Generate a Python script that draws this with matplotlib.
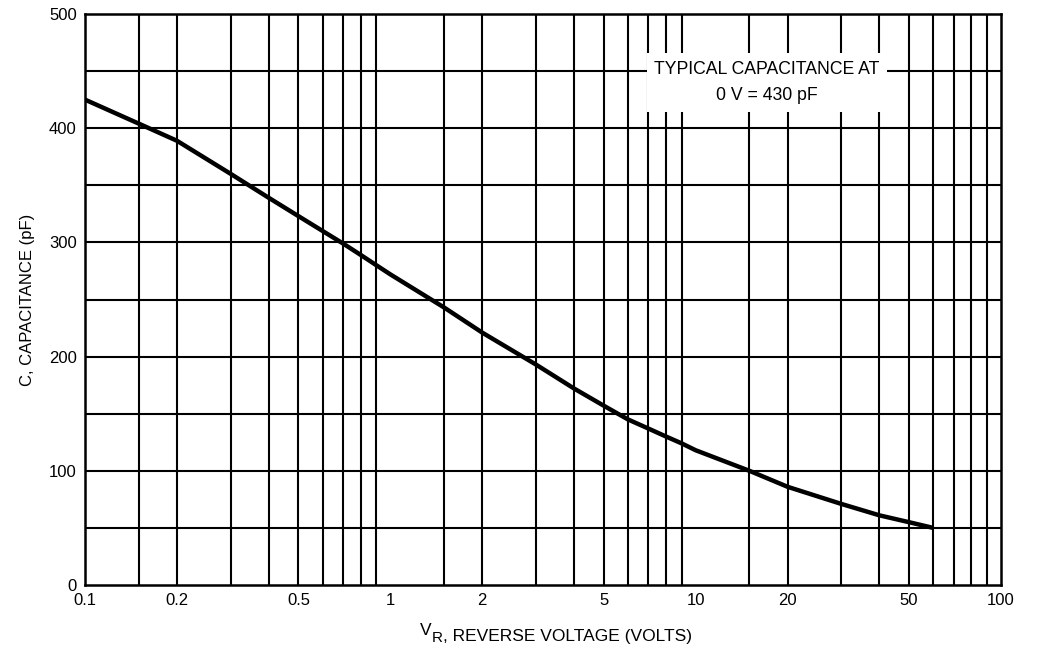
import numpy as np
import matplotlib.pyplot as plt
from matplotlib.ticker import FixedLocator, NullFormatter

plt.rcParams['font.family'] = ['Liberation Sans', 'DejaVu Sans']

# Reverse voltage (V) and capacitance (pF)
vr = [0.1, 0.15, 0.2, 0.3, 0.4, 0.5, 0.6, 0.7, 0.8, 0.9, 1.0, 1.5, 2.0,
      3.0, 4.0, 5.0, 6.0, 7.0, 8.0, 9.0, 10, 15, 20, 30, 40, 50, 60]
cap = [425, 404, 389, 360, 339, 323, 310, 299, 289, 280, 272, 243, 221,
       193, 172, 157, 145, 137, 130, 124, 118, 100, 86, 71, 61, 55, 50]

x_ticks = [0.1, 0.2, 0.5, 1, 2, 5, 10, 20, 50, 100]
x_labels = ['0.1', '0.2', '0.5', '1', '2', '5', '10', '20', '50', '100']
y_ticks = [0, 100, 200, 300, 400, 500]
minor_steps = [1.5, 2, 3, 4, 5, 6, 7, 8, 9]
decades = [0.1, 1, 10]

fig = plt.figure(figsize=(10.55, 6.48), dpi=100)
ax = fig.add_axes([0.0806, 0.0972, 0.8682, 0.8812])

ax.set_xscale('log')
ax.set_xlim(0.1, 100)
ax.set_ylim(0, 500)

# grid lines
vgrid = [d * s for d in decades for s in minor_steps]
for xv in vgrid:
    ax.axvline(xv, color='black', lw=1.5, zorder=1)
for yv in range(50, 500, 50):
    ax.axhline(yv, color='black', lw=1.5, zorder=1)

ax.plot(vr, cap, color='black', lw=3.2, zorder=3, solid_capstyle='butt')

ax.xaxis.set_major_locator(FixedLocator(x_ticks))
ax.xaxis.set_minor_locator(FixedLocator([]))
ax.xaxis.set_minor_formatter(NullFormatter())
ax.set_xticks(x_ticks)
ax.set_xticklabels(x_labels)
ax.set_yticks(y_ticks)
ax.tick_params(axis='both', length=0, labelsize=12, pad=6)

for s in ax.spines.values():
    s.set_linewidth(1.8)
    s.set_zorder(4)

ax.set_ylabel('C, CAPACITANCE (pF)', fontsize=12, labelpad=10)

# x label with a large subscript R
t_v = ax.text(0.366, -0.088, 'V', transform=ax.transAxes, ha='left',
              va='baseline', fontsize=12.5)
t_r = ax.annotate('R', xy=(1, 0), xycoords=t_v, xytext=(0, -2.5),
                  textcoords='offset points', ha='left', va='baseline',
                  fontsize=11)
ax.annotate(', REVERSE VOLTAGE (VOLTS)', xy=(1, 0), xycoords=t_r,
            xytext=(0, 2.5), textcoords='offset points', ha='left',
            va='baseline', fontsize=12.5)

ax.text(17.1, 440, 'TYPICAL CAPACITANCE AT\n0 V = 430 pF', ha='center', va='center',
        fontsize=12.7, linespacing=1.75, zorder=5,
        bbox=dict(boxstyle='square,pad=0.42', facecolor='white', edgecolor='none'))

fig.savefig('out.png', dpi=100)
